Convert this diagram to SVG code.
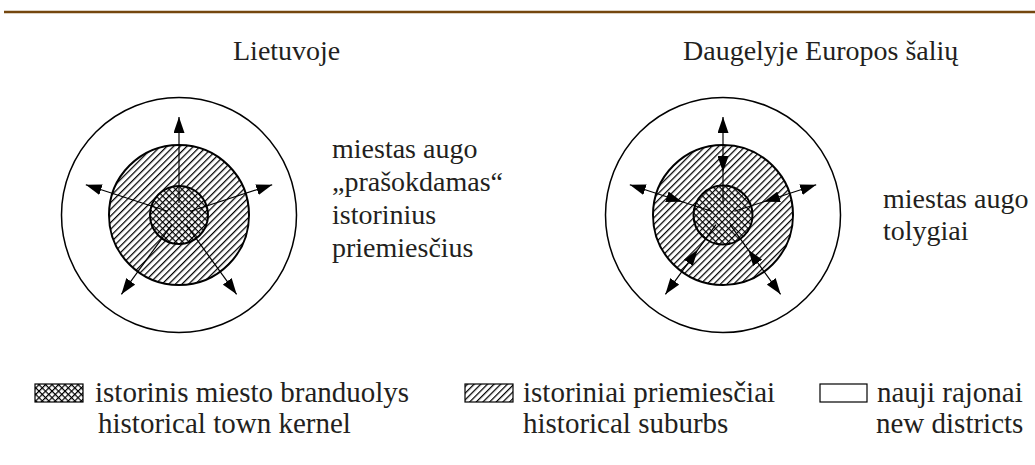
<svg xmlns="http://www.w3.org/2000/svg" width="1035" height="465" viewBox="0 0 1035 465">
<style>
text{font-family:"Liberation Serif","DejaVu Serif",serif;font-size:28px;fill:#231f20}
.leg text{font-size:29px}
.ring{stroke:#000;stroke-width:2}
.outer{fill:#fff;stroke:#000;stroke-width:1.5}
.arr{fill:none;stroke:#000;stroke-width:1.2}
</style>
<defs>
<pattern id="hatch" width="4.7" height="4.7" patternUnits="userSpaceOnUse" patternTransform="rotate(45)">
<rect width="4.7" height="4.7" fill="#fff"/>
<line x1="0.6" y1="0" x2="0.6" y2="4.7" stroke="#000" stroke-width="1.3"/>
</pattern>
<pattern id="cross" width="4.6" height="4.6" patternUnits="userSpaceOnUse" patternTransform="rotate(45)">
<rect width="4.6" height="4.6" fill="#fff"/>
<line x1="0.6" y1="0" x2="0.6" y2="4.6" stroke="#000" stroke-width="1.2"/>
<line x1="0" y1="0.6" x2="4.6" y2="0.6" stroke="#000" stroke-width="1.2"/>
</pattern>
<marker id="head" markerUnits="userSpaceOnUse" markerWidth="16" markerHeight="11" refX="16" refY="5.5" orient="auto" viewBox="0 0 16 11">
<path d="M0,0 L16,5.5 L0,11 z" fill="#000"/>
</marker>
<marker id="back" markerUnits="userSpaceOnUse" markerWidth="16" markerHeight="11" refX="0" refY="5.5" orient="auto" viewBox="0 0 16 11">
<path d="M16,0 L0,5.5 L16,11 z" fill="#000"/>
</marker>
</defs>

<line x1="4" y1="12" x2="1035" y2="12" stroke="#74470f" stroke-width="2.5"/>

<g id="title-left"><text x="233" y="60">Lietuvoje</text></g>
<g id="title-right"><text x="683" y="60">Daugelyje Europos šalių</text></g>

<g id="diagram-left">
<circle class="outer" cx="179" cy="215" r="117.5"/>
<circle class="ring" cx="179" cy="215" r="70" fill="url(#hatch)"/>
<circle class="ring" cx="179" cy="215" r="29" fill="url(#cross)"/>
</g>
<g id="diagram-right">
<circle class="outer" cx="723" cy="215" r="117.5"/>
<circle class="ring" cx="723" cy="215" r="70" fill="url(#hatch)"/>
<circle class="ring" cx="723" cy="215" r="29.5" fill="url(#cross)"/>
</g>

<g id="connectors">
<path class="arr" marker-end="url(#head)" d="M179,203 L179,117"/>
<path class="arr" marker-end="url(#head)" d="M190.4,211.3 L272.2,184.7"/>
<path class="arr" marker-end="url(#head)" d="M167.6,211.3 L85.8,184.7"/>
<path class="arr" marker-end="url(#head)" d="M186.1,224.7 L236.6,294.3"/>
<path class="arr" marker-end="url(#head)" d="M171.9,224.7 L121.4,294.3"/>

<path class="arr" marker-mid="url(#back)" marker-end="url(#head)" d="M723,203 L723,172 L723,117"/>
<path class="arr" marker-mid="url(#back)" marker-end="url(#head)" d="M734.4,211.3 L763.9,201.7 L816.2,184.7"/>
<path class="arr" marker-mid="url(#back)" marker-end="url(#head)" d="M711.6,211.3 L682.1,201.7 L629.8,184.7"/>
<path class="arr" marker-mid="url(#back)" marker-end="url(#head)" d="M730.1,224.7 L748.3,249.8 L780.6,294.3"/>
<path class="arr" marker-mid="url(#back)" marker-end="url(#head)" d="M715.9,224.7 L697.7,249.8 L665.4,294.3"/>
</g>

<g id="note-left">
<text x="332" y="158">miestas augo</text>
<text x="332" y="191">„prašokdamas“</text>
<text x="332" y="224">istorinius</text>
<text x="332" y="257">priemiesčius</text>
</g>
<g id="note-right">
<text x="883" y="208">miestas augo</text>
<text x="883" y="240">tolygiai</text>
</g>

<g id="legend-kernel" class="leg">
<rect x="35" y="384" width="48" height="18" fill="url(#cross)" stroke="#000" stroke-width="1.2"/>
<text x="95" y="402">istorinis miesto branduolys</text>
<text x="98" y="433">historical town kernel</text>
</g>
<g id="legend-suburbs" class="leg">
<rect x="465" y="384" width="48" height="18" fill="url(#hatch)" stroke="#000" stroke-width="1.2"/>
<text x="523" y="402">istoriniai priemiesčiai</text>
<text x="523" y="433">historical suburbs</text>
</g>
<g id="legend-new" class="leg">
<rect x="820" y="384" width="47" height="18" fill="#fff" stroke="#000" stroke-width="1.2"/>
<text x="877" y="402">nauji rajonai</text>
<text x="876" y="433">new districts</text>
</g>
</svg>
